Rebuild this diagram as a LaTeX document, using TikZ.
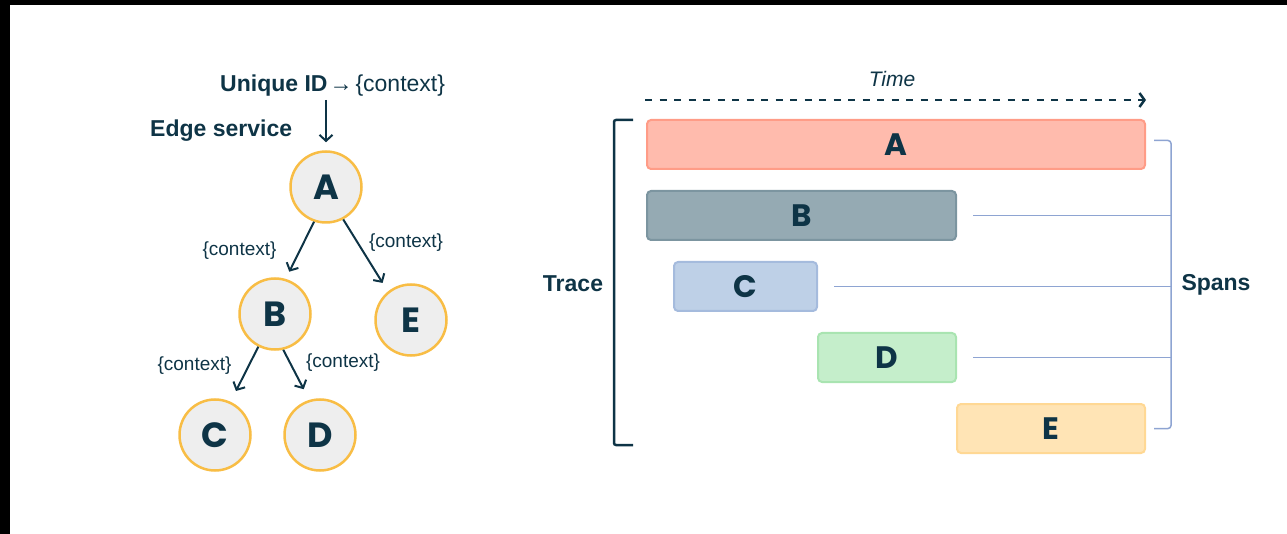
\documentclass[tikz,border=0pt]{standalone}
\usepackage{fontspec}
\setmainfont{Liberation Sans}
\newfontfamily\letterfont{Poppins}
\usetikzlibrary{arrows.meta}

\definecolor{navy}{HTML}{0E3446}
\definecolor{ringfill}{HTML}{EEEEEE}
\definecolor{ringline}{HTML}{F8BD45}
\definecolor{spanblue}{HTML}{8EA4D2}
\definecolor{fillA}{HTML}{FFBBAD}
\definecolor{lineA}{HTML}{FF9C87}
\definecolor{fillB}{HTML}{95AAB3}
\definecolor{lineB}{HTML}{7C95A0}
\definecolor{fillC}{HTML}{BED0E7}
\definecolor{lineC}{HTML}{A5BBDD}
\definecolor{fillD}{HTML}{C5EECB}
\definecolor{lineD}{HTML}{A9E4B1}
\definecolor{fillE}{HTML}{FFE4B5}
\definecolor{lineE}{HTML}{FFD894}

\tikzset{
  service/.style={circle, draw=ringline, fill=ringfill, line width=2.5pt,
    minimum size=71pt, inner sep=0pt, text=navy,
    font=\letterfont\bfseries\fontsize{35}{35}\selectfont},
  flow/.style={navy, line width=2pt,
    -{Straight Barb[length=6pt,width=13pt,line width=2pt]}},
  ctx/.style={text=navy, font=\fontsize{19}{22}\selectfont, inner sep=0pt},
  heading/.style={text=navy, font=\bfseries\fontsize{23}{27}\selectfont, inner sep=0pt},
  spanbar/.style={rounded corners=4pt, line width=2pt, minimum height=49pt,
    inner sep=0pt, text=navy, font=\letterfont\bfseries\fontsize{31}{31}\selectfont},
  spanline/.style={spanblue, line width=1.5pt},
  bracket/.style={navy, line width=2.5pt, rounded corners=2pt},
  timeline/.style={navy, line width=2.5pt, dash pattern=on 7pt off 7.5pt,
    -{Straight Barb[length=5pt,width=14pt,line width=2.5pt]}}
}

\begin{document}
\begin{tikzpicture}[x=1pt, y=-1pt]
\useasboundingbox (0,0) rectangle (1287,534);

% Frame edges
\fill[black] (0,0) rectangle (1287,5);
\fill[black] (0,0) rectangle (10,534);

% Services
\foreach \n/\x/\y in {A/326/187, B/275/314, E/411/320, C/215/435, D/320/435}
  \node[service] (\n) at (\x,\y) {\n};

% Entry point
\node[heading, anchor=base west] (uid) at (220,92)
  {Unique ID{\mdseries\kern2pt→\kern3pt\{context\}}};
\node[heading, anchor=west] (edge) at (150,131) {Edge service};
\draw[flow, shorten <=3pt, shorten >=8pt] (A |- uid.south) -- (A.north);

% Calls between services
\draw[flow, shorten >=8pt] (A.251) -- (B.73);
\draw[flow, shorten >=10pt] (A.298) -- (E.129);
\draw[flow, shorten >=12pt] (B.243) -- (C.65);
\draw[flow, shorten >=12pt] (B.283) -- (D.107);

\node[ctx] (ctxAB) at (239.5,251) {\{context\}};
\node[ctx] (ctxAE) at (406,243) {\{context\}};
\node[ctx] (ctxBC) at (194.5,366) {\{context\}};
\node[ctx] (ctxBD) at (343,363) {\{context\}};

% Time axis
\node[text=navy, font=\itshape\fontsize{21}{24}\selectfont] (time) at (892,79) {Time};
\coordinate (t0) at (645,100);
\coordinate (t1) at (1146,100);
\draw[timeline] (t0) -- (t1);

% Span bars
\foreach \n/\x/\y/\w in {A/896/144.5/498, B/801.5/215.5/309, C/745.5/286.5/143,
                         D/887/357.5/138, E/1051/428.5/188}
  \node[spanbar, fill=fill\n, draw=line\n, minimum width=\w pt] (bar\n) at (\x,\y) {\n};

% Trace bracket
\coordinate (trTop) at (633,120);
\coordinate (trBot) at (633,445);
\draw[bracket] (trTop) -- ++(-19,0) |- (trBot);
\node[heading] (trace) at (573,284) {Trace};

% Spans bracket
\coordinate (spine) at (1171,285);
\draw[spanline, rounded corners=3pt, shorten <=8pt, shorten >=8pt]
  ([yshift=4pt]barA.east) -| (spine |- barE.east) -- (barE.east);
\foreach \n in {B,C,D}
  \draw[spanline, shorten <=16pt] (bar\n.east) -- (bar\n.east -| spine);
\node[heading] (spans) at (1216,285) {Spans};
\end{tikzpicture}
\end{document}
